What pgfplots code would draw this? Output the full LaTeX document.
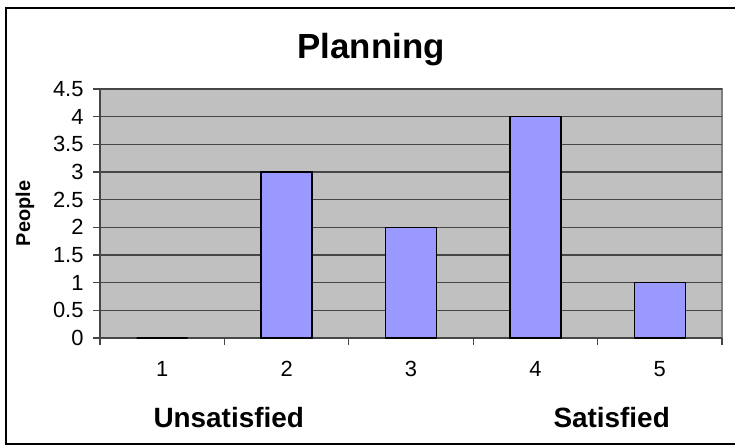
\documentclass[border=0pt]{standalone}
\usepackage{pgfplots}
\pgfplotsset{compat=1.18}
\usepackage{fontspec}
\setmainfont{Liberation Sans}
\definecolor{plotbg}{RGB}{192,192,192}
\definecolor{barblue}{RGB}{153,153,255}
\definecolor{gridc}{RGB}{70,70,70}
\definecolor{bordc}{RGB}{128,128,128}
\begin{document}
\begin{tikzpicture}[x=1bp,y=1bp]
\useasboundingbox (0,0) rectangle (735,448);
\draw[line width=2.2bp] (745,440) -- (6,440) -- (6,4) -- (745,4);
\node[anchor=base, font=\fontsize{35}{38}\selectfont\bfseries] at (371,389) {Planning};
\node[anchor=base west, font=\fontsize{28}{32}\selectfont\bfseries] at (150,20) {Unsatisfied};
\node[anchor=base west, font=\fontsize{28}{32}\selectfont\bfseries] at (550,20) {Satisfied};
\begin{axis}[
  at={(100bp,110bp)}, anchor=south west,
  scale only axis, width=622bp, height=249bp,
  xmin=0.5, xmax=5.5, ymin=0, ymax=4.5,
  axis lines=left,
  axis line style={-, line width=1.2bp, draw=gridc},
  axis background/.style={fill=plotbg, draw=bordc, line width=1.5bp},
  ytick={0,0.5,1,1.5,2,2.5,3,3.5,4,4.5},
  ymajorgrids,
  major grid style={draw=gridc, line width=1.2bp},
  xtick={0.5,1.5,2.5,3.5,4.5,5.5},
  xticklabels={},
  extra x ticks={1,2,3,4,5},
  extra x tick labels={1,2,3,4,5},
  extra x tick style={major tick length=0pt, grid=none},
  tick align=outside,
  major tick length=7bp,
  tick style={draw=gridc, line width=1.2bp},
  every tick label/.append style={font=\fontsize{22}{24}\selectfont},
  /pgf/number format/assume math mode=true,
  /pgf/number format/fixed,
  yticklabel style={anchor=east, xshift=-6bp},
  xticklabel style={anchor=north, yshift=-20bp},
  ylabel={\fontsize{20}{22}\selectfont\bfseries People},
  every axis y label/.append style={at={(-75bp,124.5bp)}, rotate=0, anchor=center},
  ybar, bar width=0.41,
  clip=false,
]
\addplot[fill=barblue, draw=black, line width=1.3bp] coordinates {(1,0) (2,3) (3,2) (4,4) (5,1)};
\end{axis}
\end{tikzpicture}
\end{document}
